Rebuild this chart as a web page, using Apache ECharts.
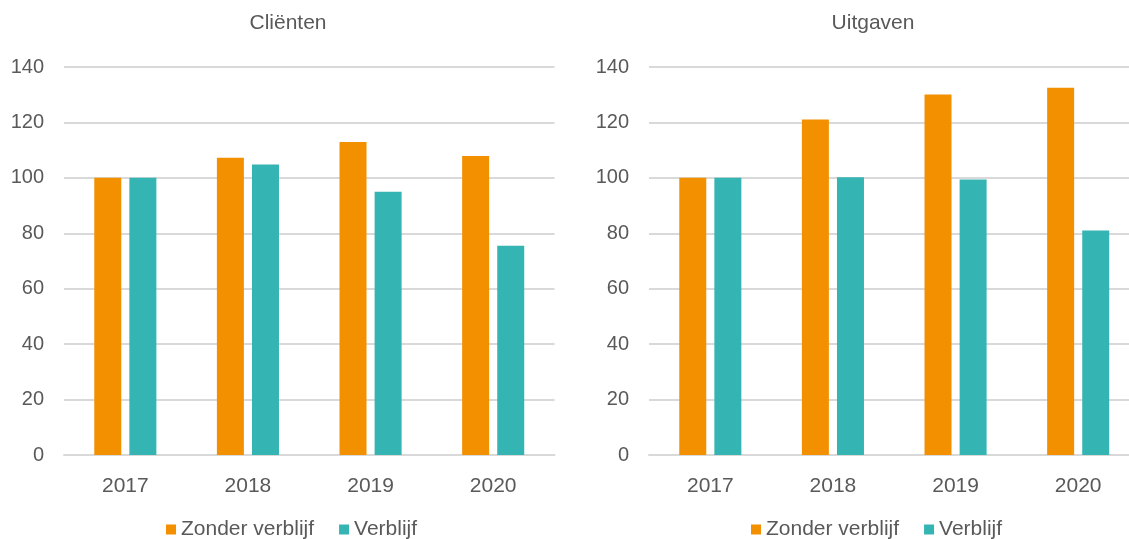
<!DOCTYPE html>
<html>
<head>
<meta charset="utf-8">
<script src="https://cdn.jsdelivr.net/npm/echarts@6/dist/echarts.min.js"></script>
<style>
html,body{margin:0;padding:0;background:#fff;overflow:hidden;}
#c{width:1129px;height:539px;}
</style>
</head>
<body>
<div id="c"></div>
<script>
const years = ['2017', '2018', '2019', '2020'];
const titles = ['Cliënten', 'Uitgaven'];
const seriesNames = ['Zonder verblijf', 'Verblijf'];
const clientenZonder = [100, 107.3, 112.9, 107.9];
const clientenVerblijf = [100, 104.8, 95.0, 75.5];
const uitgavenZonder = [100, 121.1, 130.1, 132.5];
const uitgavenVerblijf = [100, 100.2, 99.4, 81.0];
const yTicks = { min: 0, max: 140, interval: 20 };

const ORANGE = '#F39000';
const TEAL = '#34B5B3';
const TEXT = '#595959';
const GRIDC = '#D9D9D9';
const FONT = 'Liberation Sans, Arial, sans-serif';

const chart = echarts.init(document.getElementById('c'), null, { renderer: 'canvas' });

const grids = [
  { left: 64, top: 67, width: 490.5, height: 388, outerBoundsMode: 'none', containLabel: false },
  { left: 649, top: 67, width: 490.5, height: 388, outerBoundsMode: 'none', containLabel: false }
];

function xAxis(i) {
  return {
    type: 'category', gridIndex: i, data: years,
    axisLine: { show: true, lineStyle: { color: GRIDC, width: 2 } },
    axisTick: { show: false },
    axisLabel: { color: TEXT, fontSize: 21, fontFamily: FONT, margin: 21 }
  };
}
function yAxis(i) {
  return {
    type: 'value', gridIndex: i, min: yTicks.min, max: yTicks.max, interval: yTicks.interval,
    axisLine: { show: false }, axisTick: { show: false },
    axisLabel: { color: TEXT, fontSize: 20, fontFamily: FONT, margin: 20 },
    splitLine: { lineStyle: { color: GRIDC, width: 2 } }
  };
}
function bar(name, data, i, color) {
  return {
    type: 'bar', name: name, data: data, xAxisIndex: i, yAxisIndex: i,
    barWidth: 27, barGap: '30%', itemStyle: { color: color },
    emphasis: { disabled: true }
  };
}
function legend(left) {
  return {
    left: left, top: 519, padding: 0, icon: 'rect', itemWidth: 10, itemHeight: 10, itemGap: 25,
    textStyle: { color: TEXT, fontSize: 21, fontFamily: FONT },
    data: seriesNames, selectedMode: false
  };
}

chart.setOption({
  animation: false,
  backgroundColor: '#fff',
  title: [
    { text: titles[0], left: 288, top: 13, padding: 0, textAlign: 'center', textStyle: { color: TEXT, fontSize: 21, fontWeight: 'normal', fontFamily: FONT } },
    { text: titles[1], left: 873, top: 13, padding: 0, textAlign: 'center', textStyle: { color: TEXT, fontSize: 21, fontWeight: 'normal', fontFamily: FONT } }
  ],
  legend: [legend(166), legend(751)],
  grid: grids,
  xAxis: [xAxis(0), xAxis(1)],
  yAxis: [yAxis(0), yAxis(1)],
  series: [
    bar(seriesNames[0], clientenZonder, 0, ORANGE),
    bar(seriesNames[1], clientenVerblijf, 0, TEAL),
    bar(seriesNames[0], uitgavenZonder, 1, ORANGE),
    bar(seriesNames[1], uitgavenVerblijf, 1, TEAL)
  ]
});
</script>
</body>
</html>
